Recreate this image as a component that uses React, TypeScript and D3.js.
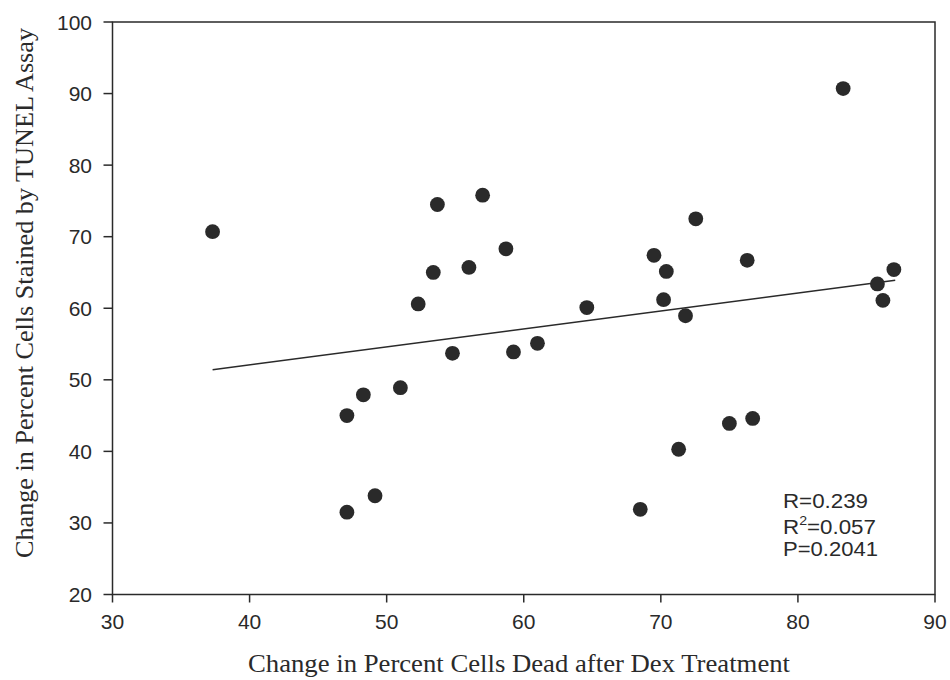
import React from "react";
import * as d3 from "d3";

const deadChange: number[] = [37.3, 47.1, 47.1, 48.3, 49.15, 51.0, 52.3, 53.4, 53.7, 54.8, 56.0, 57.0, 58.7, 59.25, 61.0, 64.6, 68.5, 69.5, 70.2, 70.4, 71.3, 71.8, 72.55, 75.0, 76.3, 76.7, 83.3, 85.8, 86.2, 87.0];
const tunelChange: number[] = [70.7, 45.0, 31.5, 47.9, 33.8, 48.9, 60.6, 65.0, 74.5, 53.7, 65.7, 75.8, 68.3, 53.9, 55.1, 60.1, 31.9, 67.4, 61.2, 65.15, 40.3, 58.95, 72.5, 43.9, 66.7, 44.6, 90.7, 63.4, 61.1, 65.4];
const fitX: number[] = [37.3, 87.1];
const fitY: number[] = [51.4, 63.9];
const xTicks: number[] = [30, 40, 50, 60, 70, 80, 90];
const yTicks: number[] = [20, 30, 40, 50, 60, 70, 80, 90, 100];
const statsLines: string[] = ["R=0.239", "=0.057", "P=0.2041"];
const xTitle = "Change in Percent Cells Dead after Dex Treatment";
const yTitle = "Change in Percent Cells Stained by TUNEL Assay";

export default function App() {
  const W = 950, H = 680;
  const left = 112.5, right = 935, top = 22, bottom = 594.5;
  const x = d3.scaleLinear().domain([30, 90]).range([left, right]);
  const y = d3.scaleLinear().domain([20, 100]).range([bottom, top]);
  const ink = "#2a2a2a";
  const sans = "'Liberation Sans', Arial, sans-serif";
  const serif = "'Liberation Serif', 'Times New Roman', serif";
  const line = d3.line<number>().x((_, i) => x(fitX[i])).y((d) => y(d));
  return (
    <svg width={W} height={H} style={{ position: "absolute", left: 0, top: 0, background: "#fff" }}>
      <rect x={0} y={0} width={W} height={H} fill="#fff" />
      <rect x={left} y={top} width={right - left} height={bottom - top} fill="none" stroke={ink} strokeWidth={1.5} />
      {yTicks.map((t) => (
        <g key={"y" + t}>
          <line x1={left - 9} x2={left} y1={y(t)} y2={y(t)} stroke={ink} strokeWidth={1.5} />
          <text x={92} y={y(t)} dy="0.36em" textAnchor="end" fontFamily={sans} fontSize={21} fill={ink}>{t}</text>
        </g>
      ))}
      {xTicks.map((t) => (
        <g key={"x" + t}>
          <line x1={x(t)} x2={x(t)} y1={bottom} y2={bottom + 8} stroke={ink} strokeWidth={1.5} />
          <text x={x(t)} y={629} textAnchor="middle" fontFamily={sans} fontSize={21} fill={ink}>{t}</text>
        </g>
      ))}
      <path d={line(fitY) || ""} fill="none" stroke={ink} strokeWidth={1.5} />
      {deadChange.map((d, i) => (
        <circle key={i} cx={x(d)} cy={y(tunelChange[i])} r={7.4} fill={ink} />
      ))}
      <g fontFamily={sans} fontSize={20.5} fill={ink}>
        <text x={783} y={507.5} textLength={85} lengthAdjust="spacingAndGlyphs">{statsLines[0]}</text>
        <text x={783} y={534} textLength={93} lengthAdjust="spacingAndGlyphs">R<tspan fontSize={13} dy={-9}>2</tspan><tspan dy={9}>{statsLines[1]}</tspan></text>
        <text x={783} y={556} textLength={95} lengthAdjust="spacingAndGlyphs">{statsLines[2]}</text>
      </g>
      <text x={519} y={672} textAnchor="middle" fontFamily={serif} fontSize={25} fill={ink} textLength={542} lengthAdjust="spacingAndGlyphs">{xTitle}</text>
      <text transform={`translate(33, 293) rotate(-90)`} textAnchor="middle" fontFamily={serif} fontSize={25} fill={ink} textLength={530} lengthAdjust="spacingAndGlyphs">{yTitle}</text>
    </svg>
  );
}
